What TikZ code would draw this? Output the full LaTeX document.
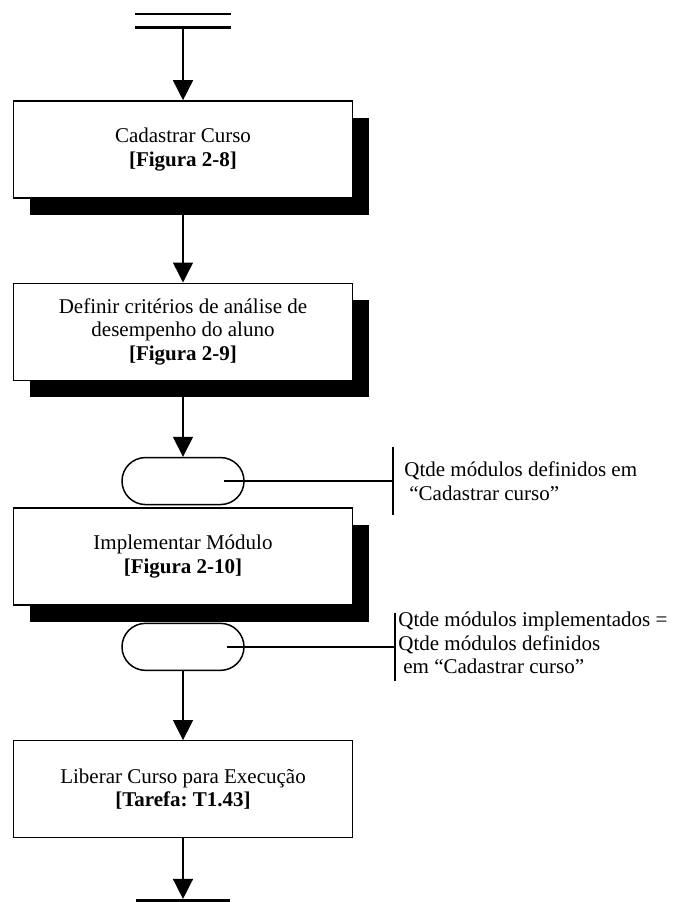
\documentclass[tikz,border=0pt]{standalone}
\usepackage{fontspec}
\setmainfont{Liberation Serif}
\usetikzlibrary{arrows.meta, positioning, shapes.misc, shadows}
\frenchspacing

\begin{document}
\begin{tikzpicture}[
    x=1pt, y=1pt,
    >={Triangle[width=20pt,length=20pt]},
    every node/.style={font=\fontsize{21}{23.5}\selectfont},
    actbox/.style={rectangle, draw, line width=1.3pt, fill=white,
                   minimum width=339pt, minimum height=97pt,
                   align=center, inner sep=0pt},
    shadowbox/.style={actbox, drop shadow={shadow xshift=16pt, shadow yshift=-17pt,
                      fill=black, opacity=1}},
    joinpill/.style={rounded rectangle, draw, line width=1.5pt, fill=white,
                     minimum width=122pt, minimum height=47pt, inner sep=0pt},
    syncbar/.style={inner sep=0pt, minimum width=95pt, minimum height=13pt},
    notebar/.style={inner sep=0pt, minimum width=0pt, minimum height=67pt},
    notetext/.style={align=left, inner sep=0pt},
    arr/.style={->, line width=1.5pt},
    barline/.style={line width=2.6pt},
    noteline/.style={line width=1.3pt},
]

\useasboundingbox (0,0) rectangle (672,-902);

% inicio (barra dupla)
\node[syncbar] (inicio) at (183,-20.5) {};
\draw[barline] (inicio.north west) -- (inicio.north east);
\draw[barline] (inicio.south west) -- (inicio.south east);

\node[shadowbox, below=73pt of inicio] (cad) {Cadastrar Curso\\\textbf{[Figura 2-8]}};
\node[shadowbox, below=84pt of cad] (crit)
    {Definir critérios de análise de\\desempenho do aluno\\\textbf{[Figura 2-9]}};

\draw[arr] (inicio.south) -- (cad.north);
\draw[arr] (cad) -- (crit);

% laco dos modulos
\node[joinpill, below=76pt of crit] (join1) {};
\node[shadowbox, below=2pt of join1] (impl) {Implementar Módulo\\\textbf{[Figura 2-10]}};
\node[joinpill, below=17pt of impl] (join2) {};

\draw[arr] (crit) -- (join1);

\node[notebar, right=148pt of join1] (barra1) {};
\draw[barline, line width=1.8pt] (barra1.north) -- (barra1.south);
\draw[noteline] ([xshift=-21pt]join1.east) -- (barra1.center);
\node[notetext, right=11pt of barra1] (nota1)
    {Qtde módulos definidos em\\\hspace*{5pt}“Cadastrar curso”};

\node[notebar, minimum height=68pt, right=150pt of join2] (barra2) {};
\draw[barline, line width=1.8pt] (barra2.north) -- (barra2.south);
\draw[noteline] ([xshift=-18pt]join2.east) -- (barra2.center);
\node[notetext, right=3pt of barra2, yshift=4pt] (nota2)
    {Qtde módulos implementados =\\Qtde módulos definidos\\\hspace*{5pt}em “Cadastrar curso”};

% fim
\node[actbox, below=69pt of join2] (lib) {Liberar Curso para Execução\\\textbf{[Tarefa: T1.43]}};
\draw[arr] (join2) -- (lib);

\node[inner sep=0pt, minimum width=94pt, minimum height=0pt, below=62pt of lib] (fim) {};
\draw[barline] (fim.west) -- (fim.east);
\draw[arr, shorten >=1.5pt] (lib.south) -- (fim.north);
\end{tikzpicture}
\end{document}
